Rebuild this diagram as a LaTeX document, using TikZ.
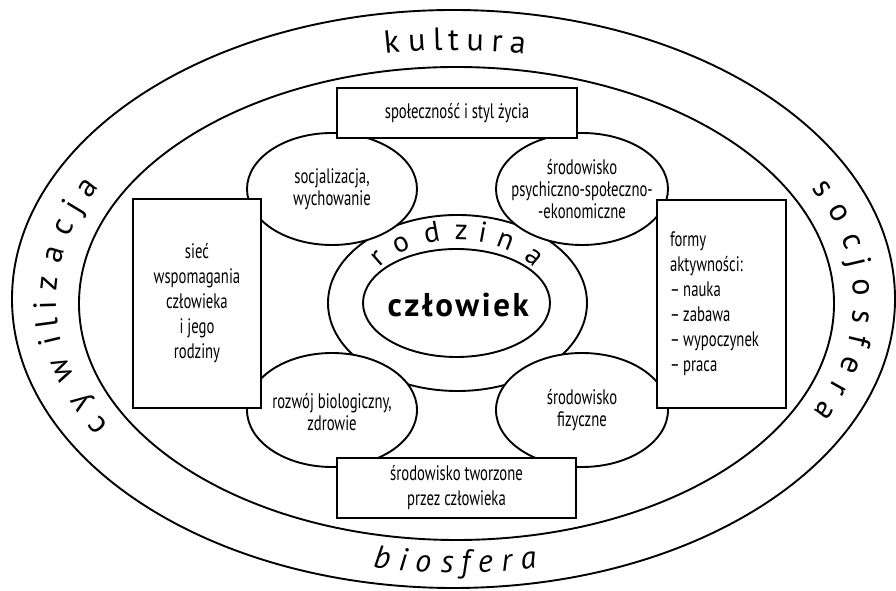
\documentclass[tikz,border=0pt]{standalone}
\usepackage{fontspec}
\setmainfont{PT Sans}
\newfontfamily\condfont[FakeStretch=0.70]{PT Sans}
\newfontfamily\bandfont{PT Sans}
\usetikzlibrary{shapes.geometric,decorations.text}

\tikzset{
  rim/.style={ellipse, draw, line width=1.9pt, inner sep=0pt},
  blob/.style={ellipse, draw, fill=white, line width=1.9pt, inner sep=0pt},
  blobtext/.style={font=\condfont\fontsize{21}{22}\selectfont, align=center, inner sep=0pt},
  panel/.style={rectangle, draw, fill=white, line width=1.9pt, inner sep=0pt,
    font=\condfont\fontsize{21}{25}\selectfont, align=center},
  bandtext/.style={decorate, decoration={text effects along path, text={#1},
    text effects/.cd, text along path, fit text to path}},
}

\begin{document}
\begin{tikzpicture}[x=1pt,y=1pt]
\useasboundingbox (0,0) rectangle (896,591);
\fill[white] (0,0) rectangle (896,591);

% the two rings of the outer band
\node[rim, minimum width=883pt, minimum height=578pt] (outer) at (453.5,292) {};
\node[rim, minimum width=755pt, minimum height=473pt] (inner) at (456.5,287.5) {};
\coordinate (mid) at (455,290);

% words written along the band
\begingroup
\bandfont\fontsize{32}{32}\selectfont
\path[bandtext=kultura] (mid) ++(100.1:399 and 251)
  arc[start angle=100.1, end angle=79.9, x radius=399, y radius=251];
\path[bandtext=cywilizacja] (mid) ++(209.6:399 and 251)
  arc[start angle=209.6, end angle=153, x radius=399, y radius=251];
\path[bandtext=socjosfera] (mid) ++(26.7:399 and 251)
  arc[start angle=26.7, end angle=-26.2, x radius=399, y radius=251];
\itshape
\path[bandtext=biosfera] (mid) ++(258.7:419 and 272)
  arc[start angle=258.7, end angle=281.3, x radius=419, y radius=272];
\endgroup

% family and the person in the middle
\node[blob, minimum width=259pt, minimum height=176pt] (rodz) at (457.5,288) {};
\node[blob, minimum width=187pt, minimum height=108pt] (czl) at (456.5,288) {};
\node[inner sep=0pt, font=\bandfont\bfseries\fontsize{33}{33}\selectfont\addfontfeature{LetterSpace=8}]
  (czl-t) at (458.3,286) {człowiek};
\coordinate (rodz-c) at (457,288);
\begingroup
\bandfont\fontsize{29}{29}\selectfont
\path[bandtext=rodzina] (rodz-c) ++(146:93 and 63)
  arc[start angle=146, end angle=34, x radius=93, y radius=63];
\endgroup

% four surrounding spheres
\node[blob, minimum width=170pt, minimum height=112pt] (soc) at (332,402) {};
\node[blobtext] (soc-t) at (soc) {socjalizacja,\\wychowanie};
\node[blob, minimum width=172pt, minimum height=112pt] (psy) at (582,402) {};
\node[blobtext] (psy-t) at (psy) {środowisko\\psychiczno-społeczno-\\-ekonomiczne};
\node[blob, minimum width=170pt, minimum height=114pt] (roz) at (332,181) {};
\node[blobtext] (roz-t) at ([yshift=-2pt]roz) {rozwój biologiczny,\\zdrowie};
\node[blob, minimum width=172pt, minimum height=114pt] (fiz) at (582,181) {};
\node[blobtext] (fiz-t) at (fiz) {środowisko\\fizyczne};

% boxes
\node[panel, minimum width=240pt, minimum height=50pt] (spol) at (457,478)
  {społeczność i styl życia};
\node[panel, minimum width=128pt, minimum height=209pt] (siec) at (197,287.5)
  {sieć\\wspomagania\\człowieka\\i jego\\rodziny};
\node[panel, minimum width=129pt, minimum height=208pt, text width=103pt,
  inner xsep=13pt, align=left] (formy) at (721.5,287)
  {formy\\aktywności:\\–\,nauka\\–\,zabawa\\–\,wypoczynek\\–\,praca};
\node[panel, minimum width=239pt, minimum height=60pt] (tworz) at (456.5,103)
  {środowisko tworzone\\przez człowieka};
\end{tikzpicture}
\end{document}
